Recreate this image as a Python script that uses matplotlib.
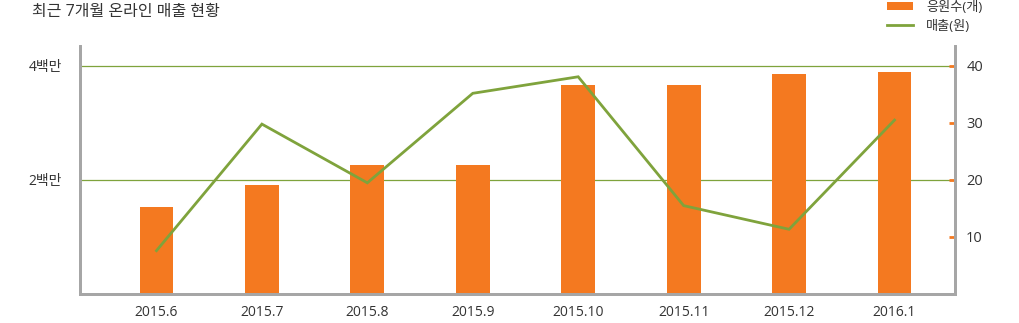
import matplotlib
matplotlib.use('Agg')
import matplotlib.pyplot as plt
from matplotlib.lines import Line2D
from matplotlib.patches import Patch

plt.rcParams['font.family'] = ['Open Sans', 'Noto Sans CJK KR', 'DejaVu Sans']

months = ['2015.6', '2015.7', '2015.8', '2015.9', '2015.10', '2015.11', '2015.12', '2016.1']
cheer_counts = [15.2, 19.1, 22.6, 22.6, 36.7, 36.7, 38.6, 38.9]          # 응원수(개)
sales_won = [760000, 2980000, 1950000, 3520000, 3810000, 1550000, 1135000, 3050000]  # 매출(원)
left_ticks = [2000000, 4000000]
left_labels = ['2백만', '4백만']
right_ticks = [10, 20, 30, 40]

ORANGE = '#F47920'
GREEN = '#7FA33C'
GRAY = '#A6A6A6'

fig = plt.figure(figsize=(10.2, 3.23), dpi=100)
ax = fig.add_axes([0.0784, 0.0898, 0.8579, 0.7678])
ax2 = ax.twinx()
ax.set_zorder(ax2.get_zorder() + 1)
ax.patch.set_visible(False)

x = list(range(len(months)))

# bars on the right (count) axis
ax2.bar(x, cheer_counts, width=0.32, color=ORANGE, zorder=2)
# grid lines follow the left axis ticks but sit behind the bars
for t in left_ticks:
    ax2.plot([0, 1], [t, t], transform=ax.get_yaxis_transform(),
             color=GREEN, lw=0.9, zorder=1)

# sales line on the left axis
ax.plot(x, sales_won, color=GREEN, lw=2, solid_joinstyle='miter', zorder=3)

ax.set_xlim(-0.7256, 7.574)
ax.set_ylim(0, 4350000)
ax2.set_ylim(0, 43.5)

ax.set_xticks(x)
ax.set_xticklabels(months, fontsize=10, color='#333333')
ax.set_yticks(left_ticks)
ax.set_yticklabels(left_labels, fontsize=10, color='#333333')
ax.tick_params(axis='x', length=0, pad=8)
ax.tick_params(axis='y', length=0, pad=13)

ax2.set_yticks(right_ticks)
ax2.set_yticklabels([str(t) for t in right_ticks], fontsize=10.5, color='#333333')
ax2.tick_params(axis='y', direction='in', length=4, width=2, color=ORANGE, pad=8)

for a in (ax, ax2):
    a.spines['top'].set_visible(False)
    for s in ('left', 'right', 'bottom'):
        a.spines[s].set_color(GRAY)
        a.spines[s].set_linewidth(2)

fig.text(0.031, 1 - 12 / 323, '최근 7개월 온라인 매출 현황', fontsize=11.5,
         color='#333333', va='center', ha='left')

handles = [Patch(facecolor=ORANGE, edgecolor='none'),
           Line2D([], [], color=GREEN, lw=2)]
fig.legend(handles, ['응원수(개)', '매출(원)'], loc='upper right',
           bbox_to_anchor=(0.975, 1.035), frameon=False, fontsize=9.5,
           handlelength=2.0, handleheight=0.5, handletextpad=1.0,
           labelspacing=0.45, labelcolor='#333333')

fig.savefig('out.png', dpi=100)
